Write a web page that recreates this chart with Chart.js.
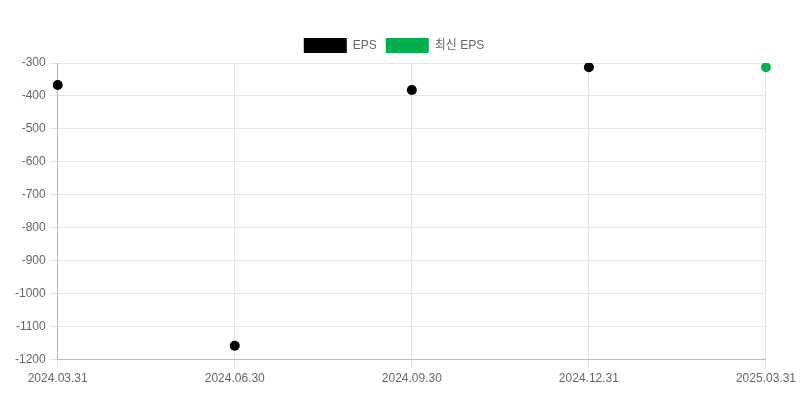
<!DOCTYPE html>
<html>
<head>
<meta charset="utf-8">
<script src="https://cdn.jsdelivr.net/npm/chart.js@4"></script>
<style>
  html, body { margin: 0; padding: 0; background: #fff; }
  #wrap { width: 800px; height: 400px; }
</style>
</head>
<body>
<div id="wrap"><canvas id="eps"></canvas></div>
<script>
const periods = ['2024.03.31', '2024.06.30', '2024.09.30', '2024.12.31', '2025.03.31']
const epsValues = [-367, -1158, -382, -313, null]
const latestEps = [null, null, null, null, -313]
const yTicks = [-300, -1200]

Chart.defaults.font.family = "'Liberation Sans', Arial, 'Noto Sans CJK KR', sans-serif"
Chart.defaults.font.size = 12
Chart.defaults.color = '#666'

const data = {
  labels: periods,
  datasets: [{
    label: 'EPS',
    data: epsValues,
    backgroundColor: '#000',
    borderColor: '#000',
    borderWidth: 0,
    showLine: false,
    pointRadius: 5,
    pointBorderWidth: 0,
    pointHoverRadius: 5
  }, {
    label: '최신 EPS',
    data: latestEps,
    backgroundColor: '#00b04f',
    borderColor: '#00b04f',
    borderWidth: 0,
    showLine: false,
    pointRadius: 5,
    pointBorderWidth: 0,
    pointHoverRadius: 5
  }]
}

const config = {
  type: 'line',
  data: data,
  options: {
    responsive: true,
    maintainAspectRatio: false,
    animation: false,
    layout: { padding: { top: 29, left: 11, right: 23, bottom: 10 } },
    plugins: {
      legend: {
        labels: { boxWidth: 43, boxHeight: 15, padding: 9 }
      },
      tooltip: { enabled: false }
    },
    scales: {
      x: {
        grid: { color: '#e5e5e5' },
        border: { color: '#bbb' },
        ticks: { maxRotation: 0, padding: 4 }
      },
      y: {
        min: yTicks[1],
        max: yTicks[0],
        grid: { color: '#e5e5e5' },
        border: { color: '#bbb' },
        ticks: { stepSize: 100, padding: 4, callback: v => String(v) }
      }
    }
  }
}

new Chart(document.getElementById('eps'), config)
</script>
</body>
</html>
